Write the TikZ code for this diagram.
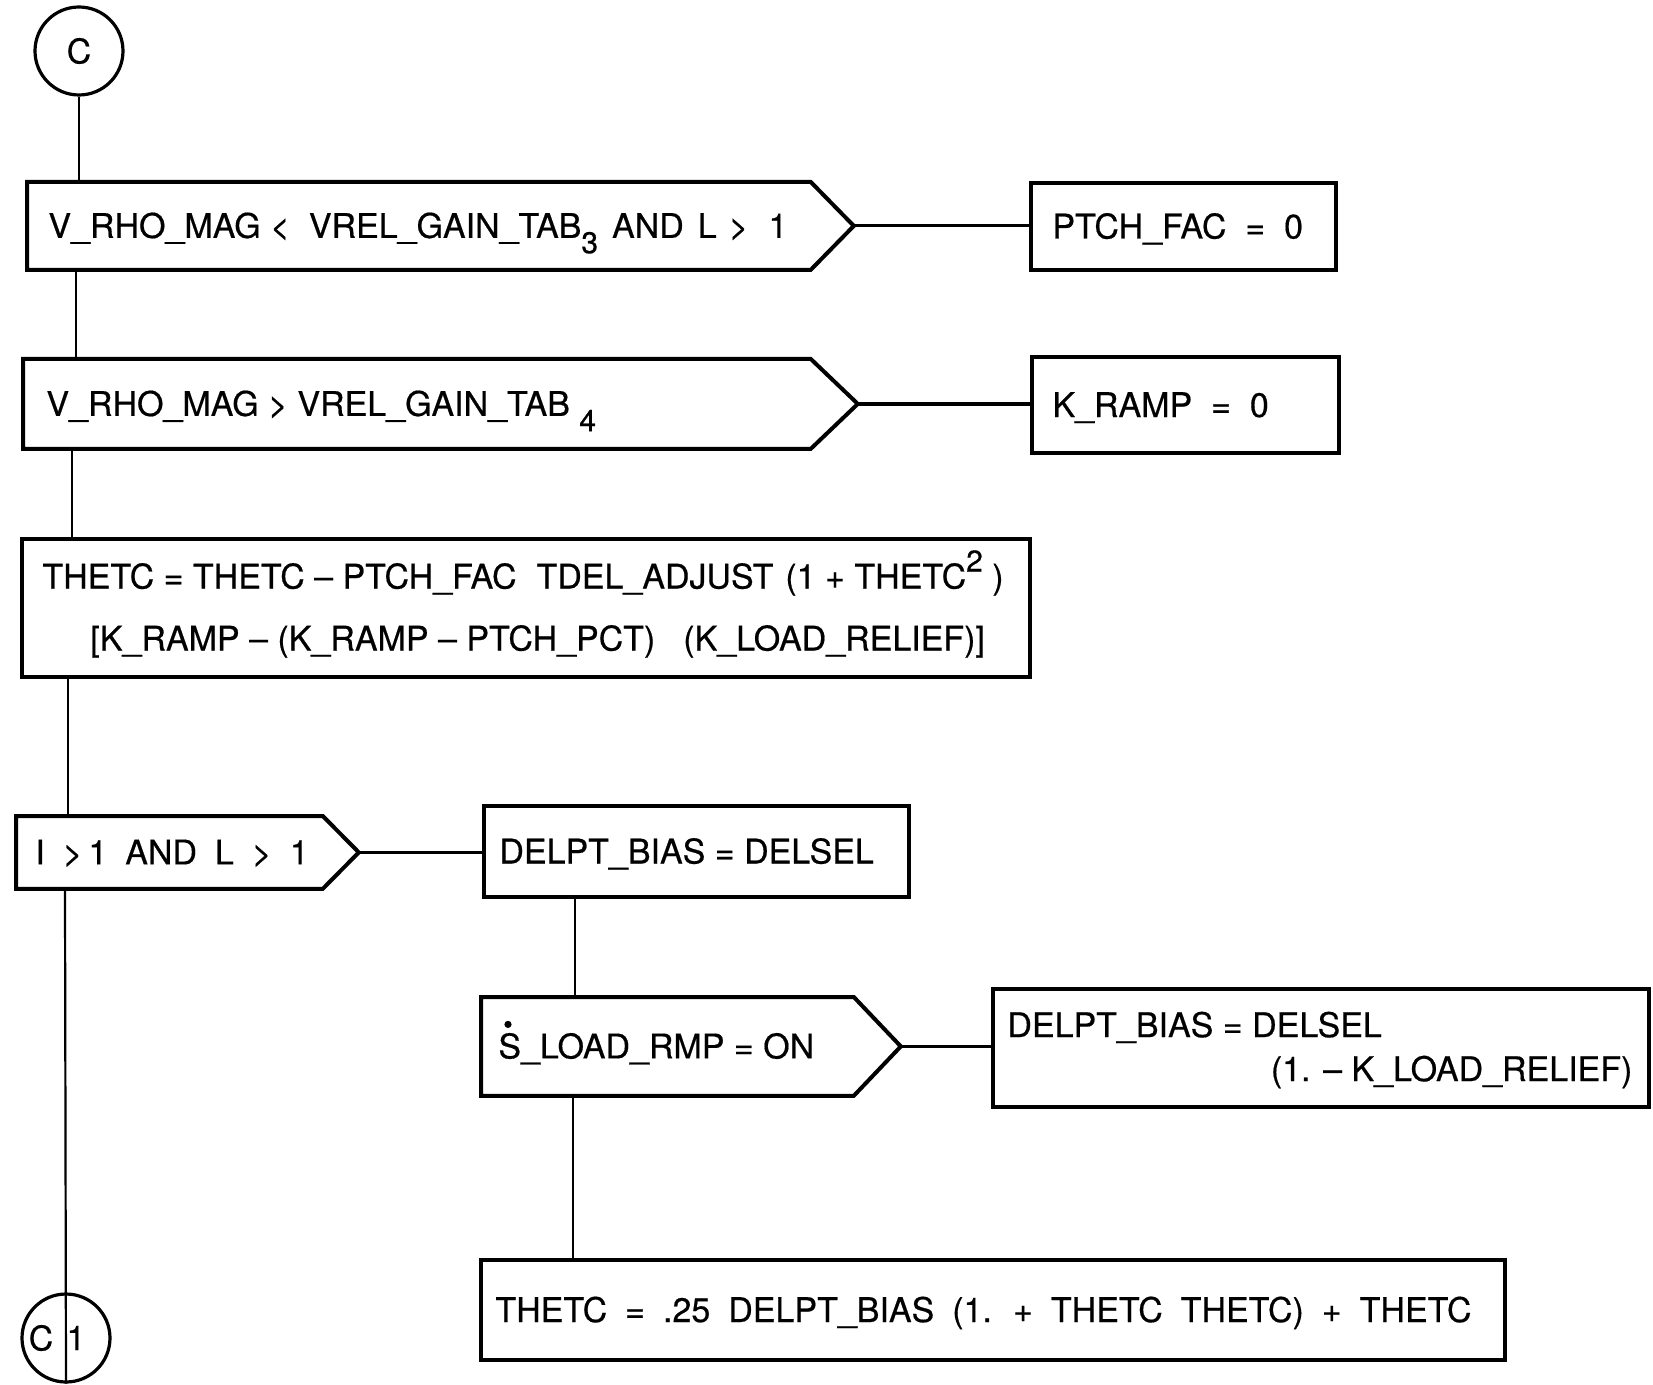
\documentclass[tikz,border=0pt]{standalone}
\usepackage{fontspec}
\setmainfont{TeX Gyre Heros}[FakeBold=0.5]
\usetikzlibrary{calc}
\newcommand\fsz{\fontsize{17}{22}\selectfont}
\newcommand\lowidx[1]{\raisebox{-0.45em}{\fontsize{15}{15}\selectfont #1}}
\newcommand\highidx[1]{\raisebox{0.5em}{\fontsize{15}{15}\selectfont #1}}
\begin{document}
\begin{tikzpicture}[x=0.5pt,y=-0.5pt,
  frame/.style={draw, line width=2pt, rectangle, anchor=north west, inner sep=0pt},
  body/.style={rectangle, anchor=north west, inner sep=0pt},
  outl/.style={line width=2pt, line join=miter},
  txt/.style={anchor=base west, inner sep=0pt, font=\fsz, align=left},
  mtxt/.style={anchor=west, inner sep=0pt, font=\fsz, align=left},
  conn/.style={line width=1.6pt},
  vline/.style={line width=1.1pt},
  circ/.style={draw, circle, line width=1.6pt, minimum size=44pt, inner sep=0pt, font=\fontsize{17}{17}\selectfont}]
\useasboundingbox (0,0) rectangle (1653,1385);

% connector circles
\node[circ] (c) at (79,51) {C};
\node[circ] (c1) at (66,1338) {};
\node[inner sep=0pt, font=\fontsize{17}{17}\selectfont] (c1a) at ($(c1)+(-25,0)$) {C};
\node[inner sep=0pt, font=\fontsize{17}{17}\selectfont] (c1b) at ($(c1)+(10,0)$) {1};

% decision 1
\node[body, minimum width=391.5pt, minimum height=43.5pt] (d1) at (27,182) {};
\coordinate (d1t) at ($(d1.east)+(43,0)$);
\draw[outl] (d1.north west) -- (d1.north east) -- (d1t) -- (d1.south east) -- (d1.south west) -- cycle;
\node[txt] (d1x) at ($(d1.west)+(21,12)$) {V\_RHO\_MAG <\ \ VREL\_GAIN\_TAB\lowidx{3}\hspace{7pt}AND\hspace{7pt}L\hspace{6pt}>\hspace{10pt}1};
\node[frame, minimum width=152.5pt, minimum height=43.5pt] (b1) at (1029,181) {};
\node[txt] (b1x) at ($(b1.west)+(23,12)$) {PTCH\_FAC\ \ =\ \ 0};

% decision 2
\node[body, minimum width=393.5pt, minimum height=44.5pt] (d2) at (23,359) {};
\coordinate (d2t) at ($(d2.east)+(47,0)$);
\draw[outl] (d2.north west) -- (d2.north east) -- (d2t) -- (d2.south east) -- (d2.south west) -- cycle;
\node[txt] (d2x) at ($(d2.west)+(23,12)$) {V\_RHO\_MAG > VREL\_GAIN\_TAB \lowidx{4}};
\node[frame, minimum width=153.5pt, minimum height=48pt] (b2) at (1030,355) {};
\node[txt] (b2x) at ($(b2.west)+(22,12)$) {K\_RAMP\ \ =\ \ 0};

% box 3
\node[frame, minimum width=504pt, minimum height=69pt] (bx3) at (20,537) {};
\node[mtxt] (bx3x) at ($(bx3.west)+(22,-4)$) {THETC = THETC -- PTCH\_FAC\hspace{10pt}TDEL\_ADJUST\hspace{6pt}(1 + THETC\highidx{2} )\\[9pt]
\hspace*{24pt}[K\_RAMP -- (K\_RAMP -- PTCH\_PCT)\hspace{14pt}(K\_LOAD\_RELIEF)]};

% decision 3
\node[body, minimum width=153pt, minimum height=36pt] (d3) at (16,816) {};
\coordinate (d3t) at ($(d3.east)+(36,0)$);
\draw[outl] (d3.north west) -- (d3.north east) -- (d3t) -- (d3.south east) -- (d3.south west) -- cycle;
\node[txt] (d3x) at ($(d3.west)+(19,12)$) {\spaceskip=9pt I >\,1 AND L > 1};
\node[frame, minimum width=212.5pt, minimum height=45.5pt] (b4) at (482,804) {};
\node[txt] (b4x) at ($(b4.west)+(17,12)$) {DELPT\_BIAS = DELSEL};

% decision 4
\node[body, minimum width=186pt, minimum height=49pt] (d4) at (481,997) {};
\coordinate (d4t) at ($(d4.east)+(47,0)$);
\draw[outl] (d4.north west) -- (d4.north east) -- (d4t) -- (d4.south east) -- (d4.south west) -- cycle;
\node[txt] (d4x) at ($(d4.west)+(17,12)$) {S\_LOAD\_RMP = ON};
\fill ($(d4x.base west)+(10,-34)$) circle[radius=1.8pt];
\node[frame, minimum width=328pt, minimum height=59pt] (b5) at (991,987) {};
\node[mtxt] (b5x) at ($(b5.west)+(16,2)$) {\makebox[312.5pt][l]{DELPT\_BIAS = DELSEL}\\\makebox[312.5pt][r]{(1. -- K\_LOAD\_RELIEF)}};

% box 6
\node[frame, minimum width=512pt, minimum height=50pt] (b6) at (479,1258) {};
\node[txt] (b6x) at ($(b6.west)+(16,12)$) {\spaceskip=9pt THETC = .25 DELPT\_BIAS (1. + THETC THETC) + THETC};

% connectors
\draw[vline] (c) -- (c |- d1.north);
\draw[conn] (d1t) -- (d1t -| b1.west);
\draw[vline] ($(d1.south west)+(49,0)$) -- ($(d2.north west)+(53,0)$);
\draw[conn] (d2t) -- (d2t -| b2.west);
\draw[vline] ($(d2.south west)+(49,0)$) -- ($(bx3.north west)+(52,0)$);
\draw[vline] ($(bx3.south west)+(48,0)$) -- ($(d3.north west)+(52,0)$);
\draw[conn] (d3t) -- (d3t -| b4.west);
\draw[vline] ($(d3.south west)+(49,0)$) -- (c1.south);
\draw[vline] ($(b4.south west)+(93,0)$) -- ($(d4.north west)+(94,0)$);
\draw[conn] (d4t) -- (d4t -| b5.west);
\draw[vline] ($(d4.south west)+(92,0)$) -- ($(b6.north west)+(94,0)$);
\end{tikzpicture}
\end{document}
